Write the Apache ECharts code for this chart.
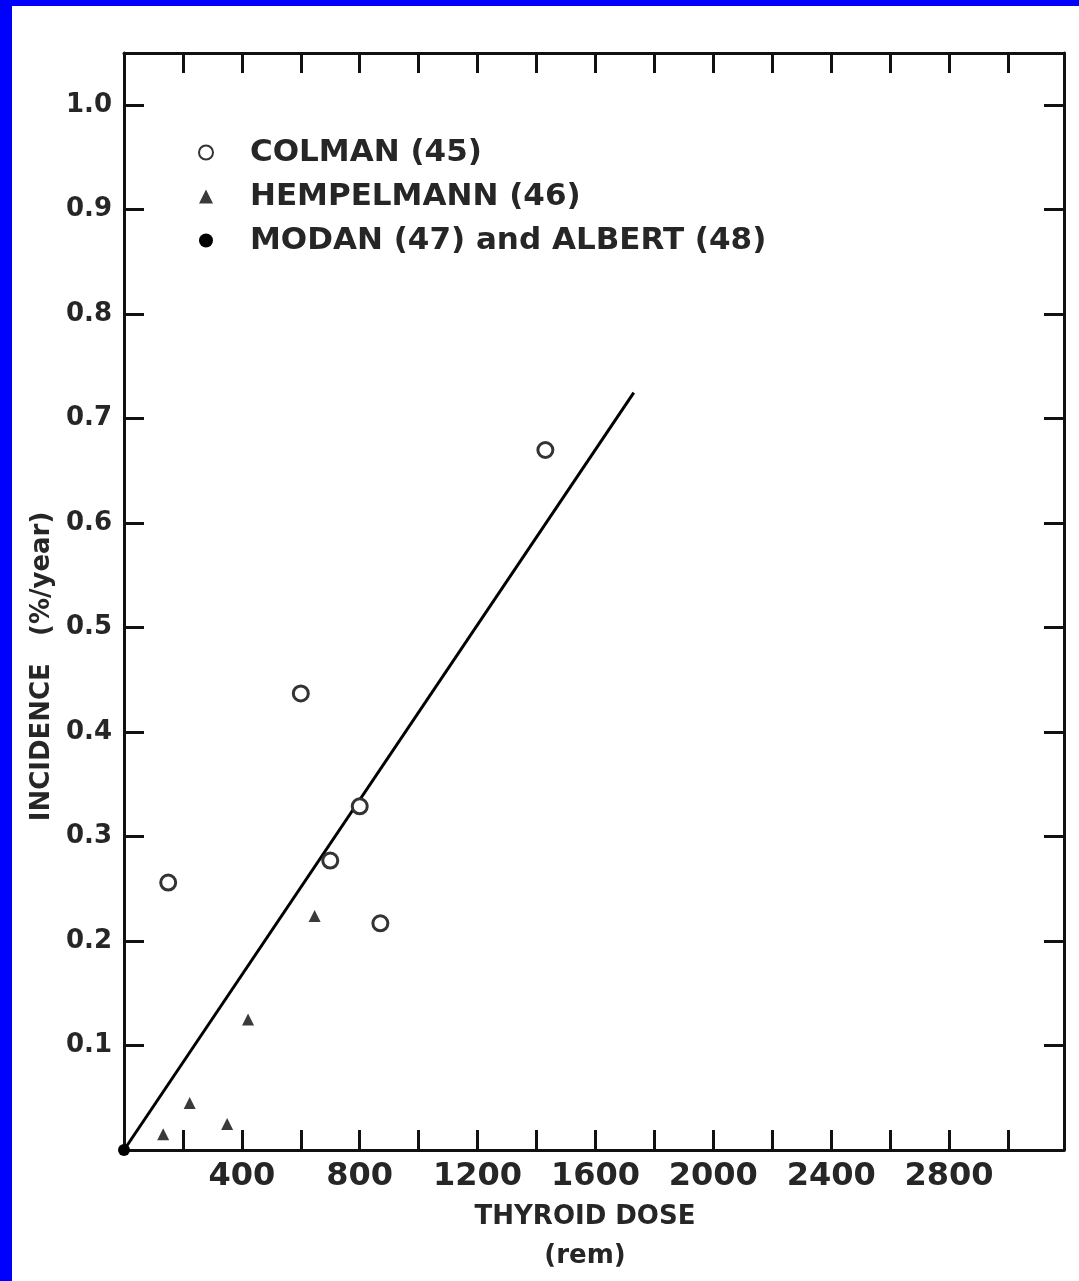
<!DOCTYPE html>
<html>
<head>
<meta charset="utf-8">
<script src="https://cdn.jsdelivr.net/npm/echarts@6/dist/echarts.min.js"></script>
<style>
  html, body { margin: 0; padding: 0; background: #fff; }
  #chart { width: 1079px; height: 1281px; }
</style>
</head>
<body>
<div id="chart"></div>
<script>
// ---- data ----
const colman = [[150, 0.256], [600, 0.437], [800, 0.329], [700, 0.277], [870, 0.217], [1430, 0.670]];
const hempelmann = [[133, 0.015], [223, 0.045], [350, 0.025], [421, 0.125], [647, 0.224]];
const modanAlbert = [[0, 0]];
const fitLine = [[0, 0], [1730, 0.725]];
const xLabels = [400, 800, 1200, 1600, 2000, 2400, 2800];
const yLabels = [0.1, 0.2, 0.3, 0.4, 0.5, 0.6, 0.7, 0.8, 0.9, 1.0];
const seriesNames = ['COLMAN (45)', 'HEMPELMANN (46)', 'MODAN (47) and ALBERT (48)'];

const FONT = 'DejaVu Sans';
const INK = '#262626';

const chart = echarts.init(document.getElementById('chart'), null, { renderer: 'canvas' });

const frameLine = { show: true, onZero: false, lineStyle: { color: '#111', width: 3 } };
const inTicks = { show: true, inside: true, length: 20, lineStyle: { color: '#111', width: 3 } };

const xFmt = v => (xLabels.indexOf(Math.round(v)) >= 0 ? String(Math.round(v)) : '');
const yFmt = v => {
  const r = Math.round(v * 10) / 10;
  return (Math.abs(v - r) < 1e-6 && yLabels.some(l => Math.abs(l - r) < 1e-6)) ? r.toFixed(1) : '';
};

const option = {
  backgroundColor: '#fff',
  animation: false,
  grid: { left: 124, right: 15, top: 53, bottom: 128, containLabel: false },
  graphic: [
    { type: 'rect', left: 0, top: 0, shape: { width: 12, height: 1281 }, style: { fill: '#0000ff' }, z: 100 },
    { type: 'rect', left: 0, top: 0, shape: { width: 1079, height: 6 }, style: { fill: '#0000ff' }, z: 100 }
  ],
  legend: {
    data: seriesNames,
    orient: 'vertical',
    left: 193,
    top: 132,
    itemWidth: 14,
    itemHeight: 14,
    itemGap: 13,
    textStyle: { fontFamily: FONT, fontWeight: 'bold', fontSize: 31, color: INK, padding: [0, 0, 0, 32], lineHeight: 30 }
  },
  xAxis: [
    {
      type: 'value', position: 'bottom', min: 0, max: 3190, interval: 200,
      axisLine: frameLine, axisTick: inTicks, splitLine: { show: false },
      axisLabel: { formatter: xFmt, fontFamily: FONT, fontWeight: 'bold', fontSize: 32, color: INK, margin: 11, showMaxLabel: false },
      name: 'THYROID DOSE\n(rem)', nameLocation: 'middle', nameGap: 48,
      nameTextStyle: { fontFamily: FONT, fontWeight: 'bold', fontSize: 26, color: INK, lineHeight: 39, padding: [0, 18, 0, 0] }
    },
    {
      type: 'value', position: 'top', min: 0, max: 3190, interval: 200,
      axisLine: frameLine, axisTick: inTicks, splitLine: { show: false },
      axisLabel: { show: false }
    }
  ],
  yAxis: [
    {
      type: 'value', position: 'left', min: 0, max: 1.05, interval: 0.1,
      axisLine: frameLine, axisTick: inTicks, splitLine: { show: false },
      axisLabel: { formatter: yFmt, fontFamily: FONT, fontWeight: 'bold', fontSize: 26, color: INK, margin: 12 },
      name: 'INCIDENCE   (%/year)', nameLocation: 'middle', nameGap: 63, nameRotate: 90,
      nameTextStyle: { fontFamily: FONT, fontWeight: 'bold', fontSize: 26, color: INK, lineHeight: 26, padding: [0, 130, 0, 0] }
    },
    {
      type: 'value', position: 'right', min: 0, max: 1.05, interval: 0.1,
      axisLine: frameLine, axisTick: inTicks, splitLine: { show: false },
      axisLabel: { show: false }
    }
  ],
  series: [
    {
      name: 'fit', type: 'line', data: fitLine, showSymbol: false, symbol: 'none',
      lineStyle: { color: '#000', width: 3 }, z: 3, silent: true
    },
    {
      name: seriesNames[0], type: 'scatter', data: colman, symbol: 'circle', symbolSize: 15,
      itemStyle: { color: '#fff', borderColor: '#333', borderWidth: 3, opacity: 1 }, z: 4, clip: false
    },
    {
      name: seriesNames[1], type: 'scatter', data: hempelmann, symbol: 'triangle', symbolSize: 12,
      itemStyle: { color: '#3a3a3a', opacity: 1 }, z: 4, clip: false
    },
    {
      name: seriesNames[2], type: 'scatter', data: modanAlbert, symbol: 'circle', symbolSize: 12,
      itemStyle: { color: '#000', opacity: 1 }, z: 4, clip: false
    }
  ]
};
chart.setOption(option);
</script>
</body>
</html>
